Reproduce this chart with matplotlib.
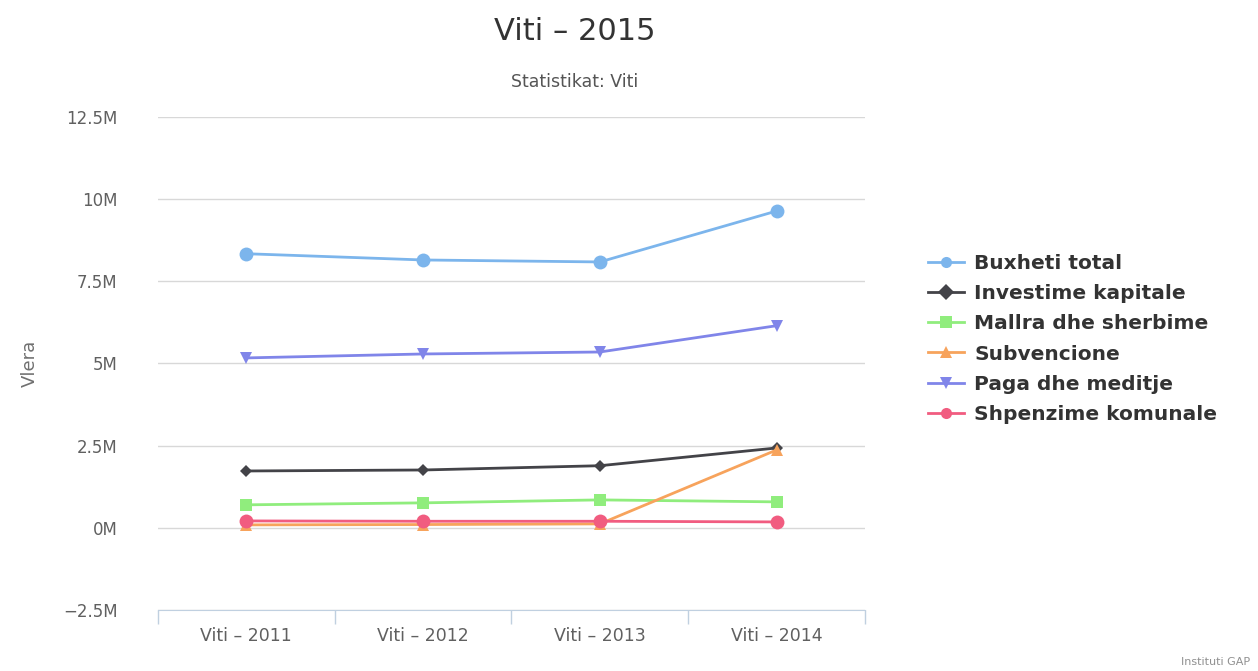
import matplotlib
matplotlib.use("Agg")
import matplotlib.pyplot as plt

# ── Data ──────────────────────────────────────────────────────────────────────
categories = ["Viti – 2011", "Viti – 2012", "Viti – 2013", "Viti – 2014"]

buxheti_total = [8.34, 8.15, 8.09, 9.64]
investime_kapitale = [1.73, 1.76, 1.89, 2.43]
mallra_sherbime = [0.70, 0.76, 0.85, 0.79]
subvencione = [0.09, 0.10, 0.12, 2.37]
paga_meditje = [5.17, 5.29, 5.35, 6.15]
shpenzime_komunale = [0.21, 0.20, 0.20, 0.18]

y_ticks = [-2.5, 0, 2.5, 5, 7.5, 10, 12.5]
y_tick_labels = ["−2.5M", "0M", "2.5M", "5M", "7.5M", "10M", "12.5M"]

series = [
    ("Buxheti total", buxheti_total, "#7cb5ec", "o", 10),
    ("Investime kapitale", investime_kapitale, "#434348", "D", 6),
    ("Mallra dhe sherbime", mallra_sherbime, "#90ed7d", "s", 9),
    ("Subvencione", subvencione, "#f7a35c", "^", 9),
    ("Paga dhe meditje", paga_meditje, "#8085e9", "v", 9),
    ("Shpenzime komunale", shpenzime_komunale, "#f15c80", "o", 10),
]

# ── Plot ──────────────────────────────────────────────────────────────────────
plt.rcParams["font.family"] = ["DejaVu Sans"]
fig = plt.figure(figsize=(12.58, 6.71), dpi=100)
ax = fig.add_axes([158 / 1258, 1 - 610 / 671, 707 / 1258, 493 / 671])

x = list(range(len(categories)))
for name, vals, color, marker, ms in series:
    ax.plot(x, vals, color=color, marker=marker, markersize=ms, linewidth=2,
            label=name, markeredgewidth=0, clip_on=False)

ax.set_xlim(-0.5, len(categories) - 0.5)
ax.set_ylim(-2.5, 12.5)
ax.set_yticks(y_ticks)
ax.set_yticklabels(y_tick_labels, color="#606060", fontsize=12)
ax.grid(axis="y", color="#d8d8d8", linewidth=1)
ax.set_axisbelow(True)
ax.tick_params(axis="y", length=0, pad=29)

ax.set_xticks(x)
ax.set_xticklabels(categories, color="#606060", fontsize=12.5)
ax.set_xticks([i - 0.5 for i in range(len(categories) + 1)], minor=True)
ax.tick_params(axis="x", which="major", length=0, pad=12)
ax.tick_params(axis="x", which="minor", length=10, color="#c0d0e0", width=1)

for side in ["top", "right", "left"]:
    ax.spines[side].set_visible(False)
ax.spines["bottom"].set_color("#c0d0e0")

fig.text(30 / 1258, 1 - 363 / 671, "Vlera", rotation=90, ha="center", va="center",
         color="#707070", fontsize=13)

fig.text(575 / 1258, 1 - 32 / 671, "Viti – 2015", ha="center", va="center",
         fontsize=22, color="#333333")
fig.text(575 / 1258, 1 - 82 / 671, "Statistikat: Viti", ha="center", va="center",
         fontsize=12.5, color="#555555")
fig.text(1250 / 1258, 1 - 662 / 671, "Instituti GAP", ha="right", va="center",
         fontsize=8, color="#909090")

handles, labels = ax.get_legend_handles_labels()
leg = fig.legend(handles, labels, loc="center left",
                 bbox_to_anchor=(920 / 1258, 1 - 339 / 671), frameon=False,
                 prop={"weight": "bold", "size": 14.5}, labelcolor="#333333",
                 handlelength=1.8, handletextpad=0.5, labelspacing=0.55,
                 borderaxespad=0)
for h in leg.legend_handles:
    h.set_markersize(8)

fig.savefig("out.png", dpi=100)
